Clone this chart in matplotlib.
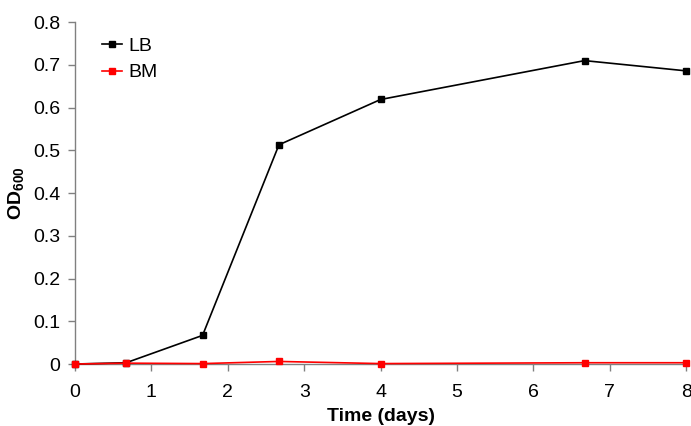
import matplotlib
matplotlib.use("Agg")
import matplotlib.pyplot as plt

plt.rcParams['font.family'] = ['Liberation Sans', 'DejaVu Sans']
plt.rcParams['mathtext.fontset'] = 'custom'
plt.rcParams['mathtext.rm'] = 'Liberation Sans:bold'
plt.rcParams['mathtext.bf'] = 'Liberation Sans:bold'

time_days = [0, 0.67, 1.67, 2.67, 4, 6.67, 8]
lb_od = [0.0, 0.003, 0.067, 0.513, 0.619, 0.710, 0.686]
bm_od = [0.0, 0.002, 0.001, 0.006, 0.001, 0.003, 0.003]
x_ticks = [0, 1, 2, 3, 4, 5, 6, 7, 8]
y_ticks = [0, 0.1, 0.2, 0.3, 0.4, 0.5, 0.6, 0.7, 0.8]
y_tick_labels = ['0', '0.1', '0.2', '0.3', '0.4', '0.5', '0.6', '0.7', '0.8']

fig = plt.figure(figsize=(6.91, 4.26), dpi=100)
ax = fig.add_axes([0.1085, 0.1455, 0.8845, 0.8025])

ax.plot(time_days, lb_od, color='black', lw=1.2, marker='s', ms=4.5, label='LB', clip_on=False, zorder=3)
ax.plot(time_days, bm_od, color='#ff0000', lw=1.2, marker='s', ms=4.5, label='BM', clip_on=False, zorder=4)

ax.set_xlim(0, 8)
ax.set_ylim(0, 0.8)
ax.set_xticks(x_ticks)
ax.set_yticks(y_ticks)
ax.set_yticklabels(y_tick_labels)

for s in ['top', 'right']:
    ax.spines[s].set_visible(False)
for s in ['left', 'bottom']:
    ax.spines[s].set_color('#808080')
    ax.spines[s].set_linewidth(1.0)
ax.tick_params(axis='both', direction='out', length=4.7, width=1.0, color='#808080', labelsize=14)
ax.tick_params(axis='y', pad=6)
ax.tick_params(axis='x', pad=9.8)

ax.set_xlabel('Time (days)', fontsize=14, fontweight='bold', labelpad=5)
ax.set_ylabel(r'OD$_{\rm 600}$', fontsize=14, fontweight='bold', labelpad=4)

leg = ax.legend(loc='upper left', bbox_to_anchor=(0.022, 0.995), frameon=False, fontsize=14,
                handlelength=1.05, handletextpad=0.28, labelspacing=0.45, borderpad=0.2)

fig.savefig('out.png', dpi=100)
